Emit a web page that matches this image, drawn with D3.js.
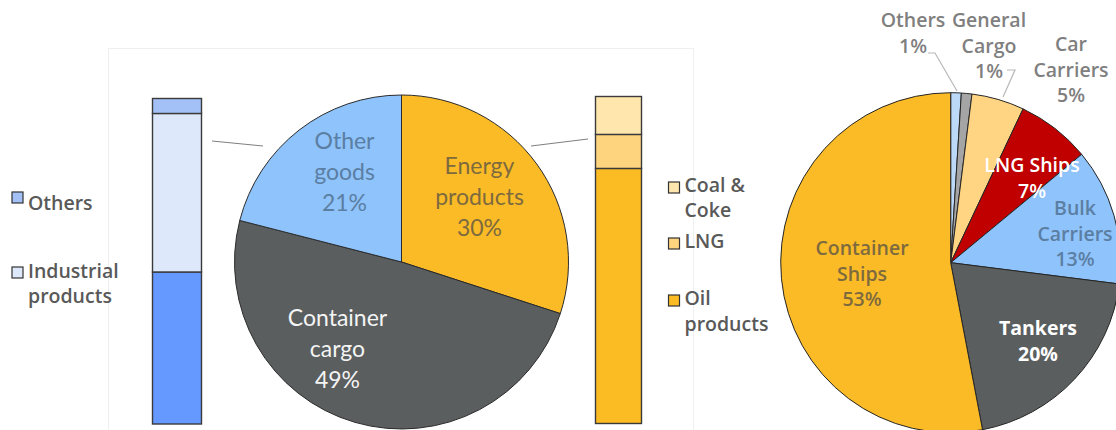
<!DOCTYPE html>
<html>
<head>
<meta charset="utf-8">
<script src="https://cdn.jsdelivr.net/npm/d3@7"></script>
<style>
  html, body { margin: 0; padding: 0; background: #ffffff; }
  svg { display: block; }
</style>
</head>
<body>
<svg id="chart" width="1116" height="430"></svg>
<script>
// ---- Cargo mix (left pie) ----
const cargoNames  = ["Energy products", "Container cargo", "Other goods"];
const cargoShares = [30, 49, 21];

// ---- Breakdown of "Other goods" (left stacked bar, bottom to top) ----
const otherGoodsParts  = ["Machinery", "Industrial products", "Others"];
const otherGoodsShares = [46.7, 48.7, 4.6];

// ---- Breakdown of "Energy products" (right stacked bar, bottom to top) ----
const energyParts  = ["Oil products", "LNG", "Coal & Coke"];
const energyShares = [78, 10.4, 11.6];

// ---- Fleet mix (right pie, clockwise from top) ----
const shipNames  = ["Others", "General Cargo", "Car Carriers", "LNG Ships", "Bulk Carriers", "Tankers", "Container Ships"];
const shipShares = [1, 1, 5, 7, 13, 20, 53];

// ---- Colours ----
const cargoColors = { "Energy products": "#fbbb27", "Container cargo": "#5a5e5f", "Other goods": "#8fc3fb" };
const otherGoodsColors = { "Machinery": "#6699ff", "Industrial products": "#dee8fb", "Others": "#a3c1f6" };
const energyColors = { "Oil products": "#fbbb22", "LNG": "#ffd47e", "Coal & Coke": "#ffe6ad" };
const shipColors = {
  "Others": "#bcd9f7", "General Cargo": "#a5a5a5", "Car Carriers": "#ffd482",
  "LNG Ships": "#c00000", "Bulk Carriers": "#8fc3fb", "Tankers": "#5a5e5f", "Container Ships": "#fbbb27"
};

const svg = d3.select("#chart");

// faint panel frame behind the left composite chart
svg.append("rect")
  .attr("x", 108.5).attr("y", 48.5).attr("width", 585).attr("height", 400)
  .attr("fill", "none").attr("stroke", "#efefef").attr("stroke-width", 1);

const calibri = "Lato, 'Open Sans', sans-serif";
const tahoma = "'Open Sans', 'Noto Sans', sans-serif";

// ---------- stacked bars ----------
function stackedBar(parts, shares, colors, x0, width, yTop, yBottom) {
  const y = d3.scaleLinear().domain([0, d3.sum(shares)]).range([yBottom, yTop]);
  let acc = 0;
  const segs = parts.map((p, i) => {
    const s = { name: p, y0: acc, y1: acc + shares[i] };
    acc += shares[i];
    return s;
  });
  svg.append("g").selectAll("rect").data(segs).join("rect")
    .attr("x", x0).attr("width", width)
    .attr("y", d => y(d.y1)).attr("height", d => y(d.y0) - y(d.y1))
    .attr("fill", d => colors[d.name])
    .attr("stroke", "#3a3a3a").attr("stroke-width", 1.4);
}
stackedBar(otherGoodsParts, otherGoodsShares, otherGoodsColors, 152.5, 49, 98.5, 424);
stackedBar(energyParts, energyShares, energyColors, 595.5, 46, 96.5, 423.5);

// ---------- legends ----------
function legendItem(x, ySwatch, color, lines, lineYs) {
  svg.append("rect").attr("x", x).attr("y", ySwatch).attr("width", 11).attr("height", 11)
    .attr("fill", color).attr("stroke", "#333").attr("stroke-width", 1.2);
  lines.forEach((t, i) => {
    svg.append("text").attr("x", x + 16).attr("y", lineYs[i])
      .attr("font-family", tahoma).attr("font-size", 19.5).attr("font-weight", 600)
      .attr("fill", "#595959").attr("dominant-baseline", "middle").text(t);
  });
}
legendItem(12, 192, otherGoodsColors["Others"], ["Others"], [205]);
legendItem(12, 267, otherGoodsColors["Industrial products"], ["Industrial", "products"], [273, 298]);
legendItem(668.5, 182, energyColors["Coal & Coke"], ["Coal &", "Coke"], [187, 212]);
legendItem(668.5, 238, energyColors["LNG"], ["LNG"], [243]);
legendItem(668.5, 295, energyColors["Oil products"], ["Oil", "products"], [300, 326]);

// ---------- left pie ----------
const cx1 = 401.5, cy1 = 262, r1 = 167;
const pie = d3.pie().sort(null).value(d => d.v);
const arc1 = d3.arc().innerRadius(0).outerRadius(r1);
const cargoData = pie(cargoNames.map((n, i) => ({ n, v: cargoShares[i] })));
const g1 = svg.append("g").attr("transform", `translate(${cx1},${cy1})`);
g1.selectAll("path").data(cargoData).join("path")
  .attr("d", arc1).attr("fill", d => cargoColors[d.data.n])
  .attr("stroke", "#2b2b2b").attr("stroke-width", 1);

// connector lines from the pie to the breakdown bars
svg.append("line").attr("x1", 212).attr("y1", 141).attr("x2", 263).attr("y2", 146)
  .attr("stroke", "#7f7f7f").attr("stroke-width", 1);
svg.append("line").attr("x1", 531).attr("y1", 146).attr("x2", 588).attr("y2", 139)
  .attr("stroke", "#7f7f7f").attr("stroke-width", 1);

const cargoLabelPos = {
  "Energy products": { dx: 78, dy: -94, color: "#7d6a3e", lines: ["Energy", "products"] },
  "Other goods": { dx: -57, dy: -119, color: "#5b7ea3", lines: ["Other", "goods"] },
  "Container cargo": { dx: -64, dy: 58, color: "#f4f4f4", lines: ["Container", "cargo"] }
};
cargoData.forEach(d => {
  const p = cargoLabelPos[d.data.n];
  const lines = p.lines.concat([d.data.v + "%"]);
  lines.forEach((t, i) => {
    g1.append("text").attr("x", p.dx).attr("y", p.dy + i * 31)
      .attr("text-anchor", "middle").attr("dominant-baseline", "middle")
      .attr("font-family", calibri).attr("font-size", 23)
      .attr("fill", p.color).text(t);
  });
});

// ---------- right pie ----------
const cx2 = 950.7, cy2 = 262.7, r2 = 170;
const arc2 = d3.arc().innerRadius(0).outerRadius(r2);
const shipData = pie(shipNames.map((n, i) => ({ n, v: shipShares[i] })));
const g2 = svg.append("g").attr("transform", `translate(${cx2},${cy2})`);
g2.selectAll("path").data(shipData).join("path")
  .attr("d", arc2).attr("fill", d => shipColors[d.data.n])
  .attr("stroke", "#262626").attr("stroke-width", 1);

// leader lines for the thin slices
svg.append("polyline").attr("points", "928,53 935,53 957,91")
  .attr("fill", "none").attr("stroke", "#b8b8b8").attr("stroke-width", 1.2);
svg.append("polyline").attr("points", "1007,70 1015,70 1003,97")
  .attr("fill", "none").attr("stroke", "#b8b8b8").attr("stroke-width", 1.2);

const shipLabelPos = {
  "Others": { x: 913, y: 22, color: "#7f7f7f", lines: ["Others"], weight: 600 },
  "General Cargo": { x: 989, y: 22, color: "#7f7f7f", lines: ["General", "Cargo"], weight: 600 },
  "Car Carriers": { x: 1071, y: 46, color: "#7f7f7f", lines: ["Car", "Carriers"], weight: 600 },
  "LNG Ships": { x: 1032, y: 167, color: "#ffffff", lines: ["LNG Ships"], weight: 600 },
  "Bulk Carriers": { x: 1075, y: 210, color: "#5b7ea3", lines: ["Bulk", "Carriers"], weight: 600 },
  "Tankers": { x: 1038, y: 330, color: "#ffffff", lines: ["Tankers"], weight: 700 },
  "Container Ships": { x: 862, y: 250, color: "#7d6a3e", lines: ["Container", "Ships"], weight: 600 }
};
shipData.forEach(d => {
  const p = shipLabelPos[d.data.n];
  const lines = p.lines.concat([d.data.v + "%"]);
  lines.forEach((t, i) => {
    svg.append("text").attr("x", p.x).attr("y", p.y + i * 25.5)
      .attr("text-anchor", "middle").attr("dominant-baseline", "middle")
      .attr("font-family", tahoma).attr("font-size", 19.5).attr("font-weight", p.weight)
      .attr("fill", p.color).text(t);
  });
});
</script>
</body>
</html>
